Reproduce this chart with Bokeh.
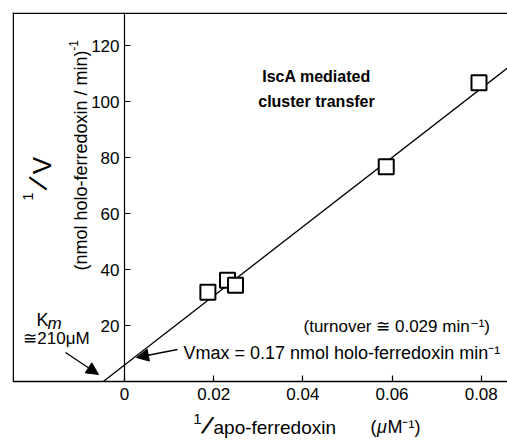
import math
from bokeh.plotting import figure
from bokeh.models import Range1d, LinearAxis, FixedTicker, Label, Span, Arrow, NormalHead
from bokeh.embed import file_html
from bokeh.resources import INLINE

# ---- data ----
inv_apo = [0.0187, 0.0231, 0.0249, 0.0587, 0.0795]      # 1/[apo-ferredoxin] (uM^-1)
inv_rate = [31.9, 36.2, 34.4, 76.7, 106.7]             # 1/V
km_uM = 210.0
vmax = 0.17
x_ticks = [0, 0.02, 0.04, 0.06, 0.08]
x_tick_labels = ["0", "0.02", "0.04", "0.06", "0.08"]
y_ticks = [20, 40, 60, 80, 100, 120]
y_tick_labels = ["20", "40", "60", "80", "100", "120"]

FONT = "Liberation Sans"

# canvas-pixel geometry (frame covers the drawing, axes are fixed at 0)
W, H = 507, 445
X0PX, XSCALE = 124.0, 4459.0   # canvas x of x=0, px per unit
Y0PX, YSCALE = 381.0, 2.8      # canvas y of y=0, px per unit
FRAME_L, FRAME_T = 12, 12

def dx(px):
    return (px - X0PX) / XSCALE

def dy(py):
    return (Y0PX - py) / YSCALE

XMIN, XMAX = dx(FRAME_L), dx(W)
YMIN, YMAX = dy(H), dy(FRAME_T)

p = figure(width=W, height=H, output_backend="svg", toolbar_location=None,
           x_range=Range1d(XMIN, XMAX), y_range=Range1d(YMIN, YMAX),
           x_axis_location=None, y_axis_location=None,
           min_border_left=FRAME_L, min_border_top=FRAME_T, min_border_right=0, min_border_bottom=0)
p.grid.visible = False
p.outline_line_color = None
p.outline_line_alpha = 0
p.background_fill_color = "white"
p.border_fill_color = "white"

xaxis = LinearAxis(fixed_location=0, bounds=(XMIN, XMAX), ticker=FixedTicker(ticks=x_ticks),
                   major_label_overrides={t: l for t, l in zip(x_ticks, x_tick_labels)},
                   major_tick_in=6, major_tick_out=0, minor_tick_in=0, minor_tick_out=0,
                   axis_line_width=1.5, major_tick_line_width=1.2,
                   major_label_text_font=FONT, major_label_text_font_size="17px",
                   major_label_text_color="black", major_label_standoff=6)
p.add_layout(xaxis, "below")

yaxis = LinearAxis(fixed_location=0, bounds=(0, YMAX), ticker=FixedTicker(ticks=y_ticks),
                   major_label_overrides={t: l for t, l in zip(y_ticks, y_tick_labels)},
                   major_tick_in=6, major_tick_out=0, minor_tick_in=0, minor_tick_out=0,
                   axis_line_width=1.2, major_tick_line_width=1.2,
                   major_label_text_font=FONT, major_label_text_font_size="17px",
                   major_label_text_color="black", major_label_standoff=5)
p.add_layout(yaxis, "left")

# box: left and top borders
p.segment(x0=[dx(12.75)], y0=[0], x1=[dx(12.75)], y1=[YMAX], line_color="black", line_width=1.5)
p.add_layout(Span(location=dy(12.75), dimension="width", line_color="black", line_width=1.5))

# fitted Lineweaver-Burk line from Km and Vmax
line_x = [-1.0 / km_uM, XMAX]
line_y = [1.0 / vmax + (km_uM / vmax) * x for x in line_x]
p.line(line_x, line_y, line_color="black", line_width=1.3)

p.scatter(inv_apo, inv_rate, marker="square", size=15, fill_color="white",
          line_color="black", line_width=2)

def lab(px, py, text, size="17px", align="left", baseline="middle", style="normal", angle=0.0):
    p.add_layout(Label(x=dx(px), y=dy(py), text=text, text_font=FONT, text_font_size=size,
                       text_align=align, text_baseline=baseline, text_font_style=style,
                       text_color="black", angle=angle))

# title
lab(316, 76, "IscA mediated", size="16px", align="center", style="bold")
lab(316, 101, "cluster transfer", size="16px", align="center", style="bold")

# y-axis title
lab(27, 196, "1", size="15px", align="center", angle=math.pi / 2)
lab(38, 183, "/", size="28px", align="center", angle=math.pi / 2 - 0.35)
lab(41, 165, "V", size="26px", align="center", angle=math.pi / 2)
lab(80, 160, "(nmol holo-ferredoxin / min)", size="18px", align="center", angle=math.pi / 2)
lab(73, 45, "-1", size="12px", align="center", angle=math.pi / 2)

# x-axis title
lab(197, 418, "1", size="15px", align="center")
lab(207, 425, "/", size="26px", align="center", angle=-0.35)
lab(213, 427, "apo-ferredoxin", size="19px")
lab(370, 426, "(", size="18px")
lab(376.5, 426, "\u03bc", size="18px", style="italic")
lab(387, 426, "M\u207b\u00b9)", size="18px")

# Km annotation
lab(36, 319, "K", size="18px")
lab(47, 323, "m", size="17px", style="italic")
lab(56, 338, "\u2245210\u03bcM", size="17px", align="center")
p.add_layout(Arrow(x_start=dx(65), y_start=dy(352), x_end=dx(98), y_end=dy(374),
                   line_color="black", line_width=1.3,
                   end=NormalHead(size=12, fill_color="black", line_color="black")))

# turnover / Vmax annotations
lab(303, 326, "(turnover \u2245 0.029 min\u207b\u00b9)", size="17px")
lab(183, 352, "Vmax = 0.17 nmol holo-ferredoxin min\u207b\u00b9", size="18px")
p.add_layout(Arrow(x_start=dx(177), y_start=dy(349), x_end=dx(136), y_end=dy(357),
                   line_color="black", line_width=1.3,
                   end=NormalHead(size=12, fill_color="black", line_color="black")))

open("out.html", "w").write(file_html(p, INLINE))
